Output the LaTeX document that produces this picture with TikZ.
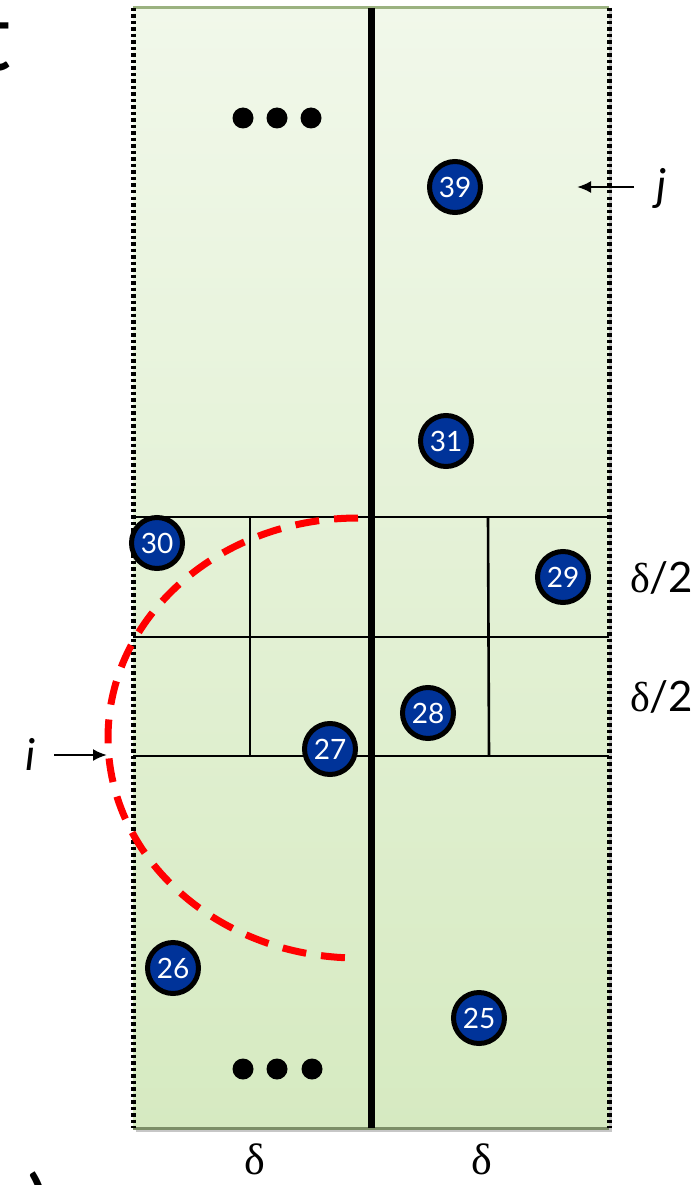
\documentclass[tikz,border=0pt]{standalone}
\usepackage{fontspec}
\setmainfont{Liberation Serif}
\newfontfamily\gs{Lato}
\usetikzlibrary{arrows.meta}
\definecolor{numblue}{RGB}{0,51,153}
\definecolor{bgtop}{RGB}{241,248,234}
\definecolor{bgbot}{RGB}{214,234,193}
\definecolor{edgegreen}{RGB}{155,178,128}
\begin{document}
\begin{tikzpicture}[x=1pt,y=-1pt,
  num/.style={circle, fill=numblue, draw=black, line width=5pt, minimum size=51pt, inner sep=0pt, text=white, font=\gs\fontsize{28}{28}\selectfont},
  dotb/.style={circle, fill=black, minimum size=21pt, inner sep=0pt},
  gridline/.style={line width=2.6pt},
  lbl/.style={font=\fontsize{42}{42}\selectfont, inner sep=0pt},
  arr/.style={-{Latex[length=14pt,width=12pt]}, line width=2.3pt},
  redarc/.style={draw=red, line width=7pt, dash pattern=on 24pt off 15pt}]
\useasboundingbox (0,0) rectangle (700,1185);
% fragments of outer text
\node[font=\gs\fontsize{96}{96}\selectfont, anchor=base east, inner sep=0pt] (tfrag) at (11,71) {t};
\node[font=\gs\fontsize{90}{90}\selectfont, anchor=north west, inner sep=0pt] (pfrag) at (27,1171) {)};
% shadow and background
\fill[black!22] (136,11) rectangle (612,1132);
\fill[top color=bgtop, bottom color=bgbot] (133,8) rectangle (609,1128);
\draw[edgegreen, line width=3pt] (133,8) -- (609,8);
\draw[edgegreen!80!black, line width=3pt] (133,1128) -- (609,1128);
\draw[black, line width=5pt, dash pattern=on 3.5pt off 3pt] (133,8) -- (133,1128);
\draw[black, line width=5pt, dash pattern=on 3.5pt off 3pt] (609,8) -- (609,1128);
% grid
\draw[gridline] (133,517) -- (609,517);
\draw[gridline] (133,637) -- (609,637);
\draw[gridline] (133,756) -- (609,756);
\draw[gridline] (250,517) -- (250,756);
\draw[gridline] (488,517) -- (489,756);
\draw[line width=7pt] (371,8) -- (371,1128);
% red dashed arc
\coordinate (arctop) at (358,518);
\draw[redarc] (arctop) arc[start angle=270, end angle=90, x radius=250, y radius=220];
% dots
\node[dotb] (d1) at (243,118) {};
\node[dotb] (d2) at (277,118) {};
\node[dotb] (d3) at (311,118) {};
\node[dotb] (d4) at (243,1069) {};
\node[dotb] (d5) at (277,1069) {};
\node[dotb] (d6) at (312,1069) {};
% numbered points
\node[num] (n39) at (455,187) {39};
\node[num] (n31) at (446,441) {31};
\node[num] (n30) at (157,543) {30};
\node[num] (n29) at (563,577) {29};
\node[num] (n28) at (428,713) {28};
\node[num] (n27) at (330,749) {27};
\node[num] (n26) at (173,968) {26};
\node[num] (n25) at (479,1018) {25};
% labels
\node[lbl, font=\gs\itshape\fontsize{44}{44}\selectfont] (jlab) at (662,188) {j};
\coordinate (jtip) at (577,187);
\draw[arr] (634,187) -- (jtip);
\node[lbl, font=\gs\itshape\fontsize{44}{44}\selectfont] (ilab) at (31,754) {i};
\coordinate (itip) at (107,755);
\draw[arr] (54,755) -- (itip);
\node[lbl, anchor=west] (h1) at (630,578) {δ\gs/2};
\node[lbl, anchor=west] (h2) at (630,697) {δ\gs/2};
\node[lbl, font=\fontsize{44}{44}\selectfont, anchor=base] (w1) at (255,1174) {δ};
\node[lbl, font=\fontsize{44}{44}\selectfont, anchor=base] (w2) at (482,1174) {δ};
\end{tikzpicture}
\end{document}
